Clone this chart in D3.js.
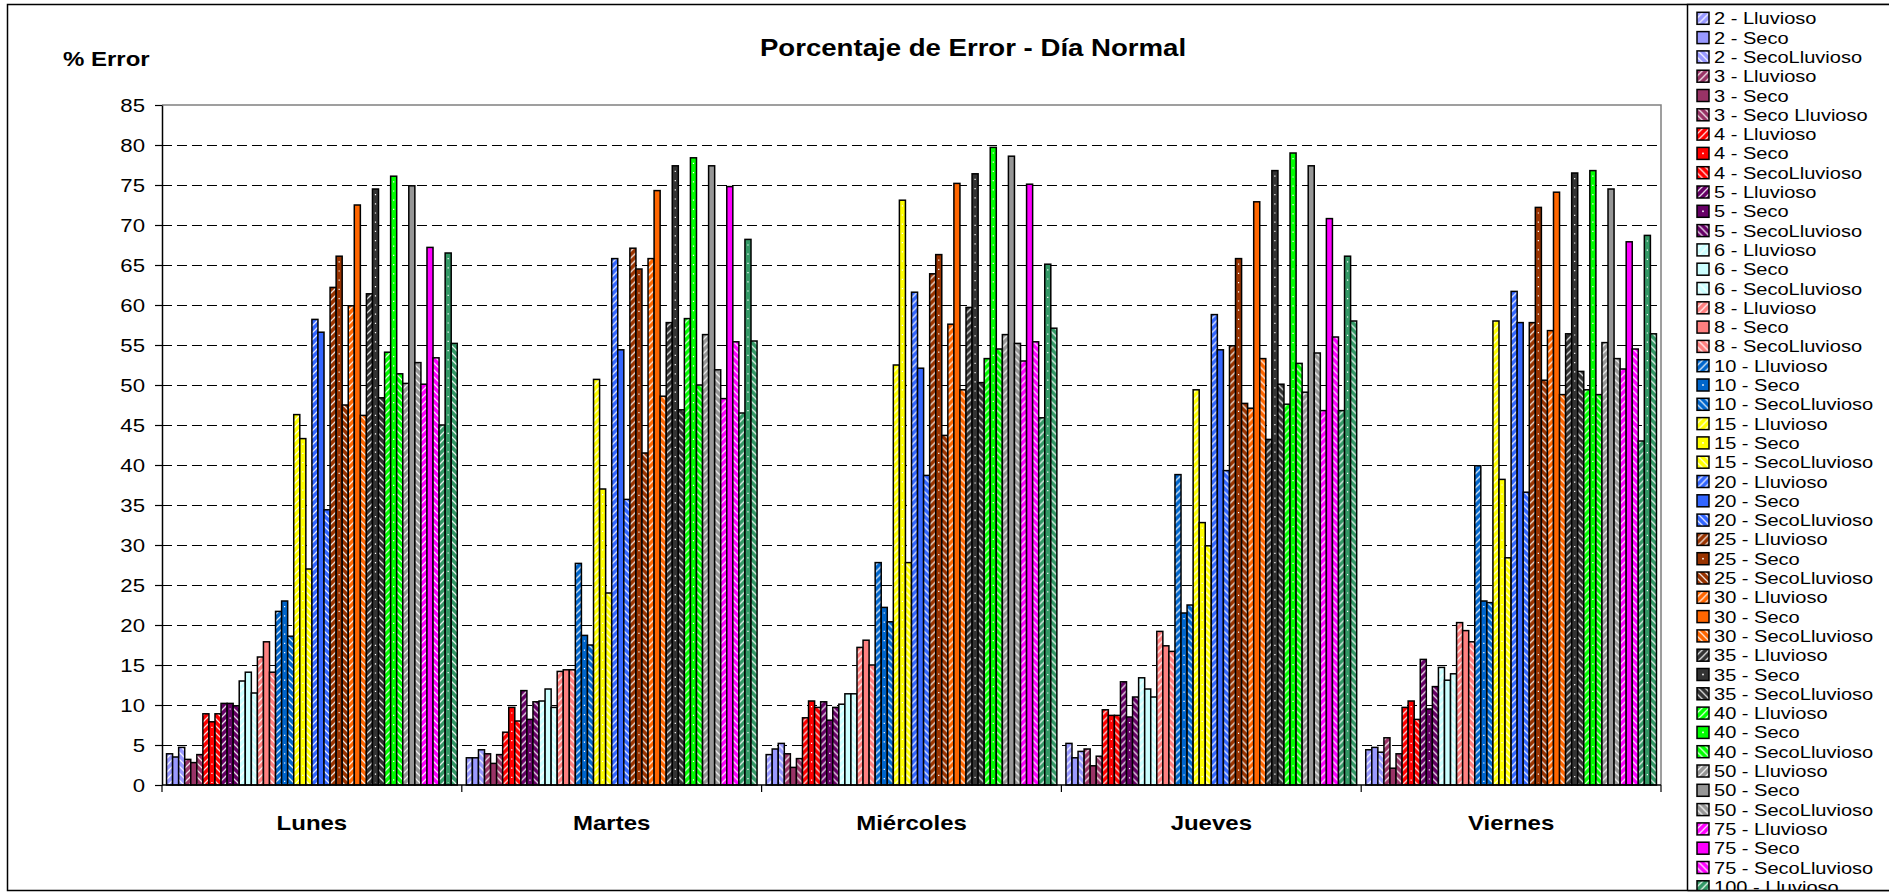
<!DOCTYPE html>
<html>
<head>
<meta charset="utf-8">
<script src="https://cdn.jsdelivr.net/npm/d3@7"></script>
<style>
  html, body { margin: 0; padding: 0; background: #fff; }
  svg { display: block; }
  text { font-family: "Liberation Sans", Arial, Helvetica, sans-serif; fill: #000; }
</style>
</head>
<body>
<svg id="chart" width="1889" height="895"></svg>
<script>
// ---- data ---------------------------------------------------------------
const categories = ["Lunes", "Martes", "Miércoles", "Jueves", "Viernes"];

const seriesNames = [
  "2 - Lluvioso", "2 - Seco", "2 - SecoLluvioso",
  "3 - Lluvioso", "3 - Seco", "3 - Seco Lluvioso",
  "4 - Lluvioso", "4 - Seco", "4 - SecoLluvioso",
  "5 - Lluvioso", "5 - Seco", "5 - SecoLluvioso",
  "6 - Lluvioso", "6 - Seco", "6 - SecoLluvioso",
  "8 - Lluvioso", "8 - Seco", "8 - SecoLluvioso",
  "10 - Lluvioso", "10 - Seco", "10 - SecoLluvioso",
  "15 - Lluvioso", "15 - Seco", "15 - SecoLluvioso",
  "20 - Lluvioso", "20 - Seco", "20 - SecoLluvioso",
  "25 - Lluvioso", "25 - Seco", "25 - SecoLluvioso",
  "30 - Lluvioso", "30 - Seco", "30 - SecoLluvioso",
  "35 - Lluvioso", "35 - Seco", "35 - SecoLluvioso",
  "40 - Lluvioso", "40 - Seco", "40 - SecoLluvioso",
  "50 - Lluvioso", "50 - Seco", "50 - SecoLluvioso",
  "75 - Lluvioso", "75 - Seco", "75 - SecoLluvioso",
  "100 - Lluvioso", "100 - Seco", "100 - SecoLluvioso"
];

// one value per series, same order as seriesNames
const lunes = [3.9, 3.5, 4.7, 3.2, 2.8, 3.8, 8.9, 7.9, 8.9, 10.2, 10.2, 9.9,
  13.0, 14.1, 11.5, 16.0, 17.9, 14.1, 21.7, 23.0, 18.6, 46.3, 43.3, 27.0,
  58.2, 56.6, 34.4, 62.2, 66.1, 47.5, 59.9, 72.5, 46.2, 61.4, 74.5, 48.4,
  54.1, 76.1, 51.4, 50.2, 74.9, 52.8, 50.1, 67.2, 53.4, 45.0, 66.5, 55.2];
const martes = [3.4, 3.4, 4.4, 3.9, 2.7, 3.8, 6.6, 9.7, 8.0, 11.8, 8.2, 10.4,
  10.5, 12.0, 9.7, 14.2, 14.4, 14.4, 27.7, 18.7, 17.5, 50.7, 37.0, 24.0,
  65.8, 54.4, 35.7, 67.1, 64.5, 41.5, 65.8, 74.3, 48.6, 57.8, 77.4, 46.9,
  58.3, 78.4, 50.0, 56.3, 77.4, 51.9, 48.3, 74.8, 55.4, 46.5, 68.2, 55.5];
const miercoles = [3.8, 4.5, 5.2, 3.9, 2.2, 3.3, 8.4, 10.5, 9.7, 10.4, 8.1, 9.7,
  10.1, 11.4, 11.4, 17.2, 18.1, 15.0, 27.8, 22.2, 20.4, 52.5, 73.1, 27.8,
  61.6, 52.1, 38.7, 63.9, 66.3, 43.7, 57.6, 75.2, 49.4, 59.7, 76.4, 50.3,
  53.3, 79.7, 54.5, 56.3, 78.6, 55.2, 53.0, 75.1, 55.4, 45.9, 65.1, 57.1];
const jueves = [5.2, 3.4, 4.2, 4.5, 2.4, 3.6, 9.4, 8.7, 8.7, 12.9, 8.5, 11.0,
  13.4, 12.0, 11.0, 19.2, 17.4, 16.7, 38.8, 21.5, 22.5, 49.4, 32.8, 29.9,
  58.8, 54.4, 39.3, 54.9, 65.8, 47.7, 47.1, 72.9, 53.3, 43.2, 76.8, 50.1,
  47.6, 79.0, 52.7, 49.1, 77.4, 54.0, 46.8, 70.8, 56.0, 46.8, 66.1, 58.0];
const viernes = [4.4, 4.7, 4.1, 5.9, 2.1, 3.9, 9.7, 10.5, 8.2, 15.7, 9.5, 12.3,
  14.7, 13.1, 13.9, 20.3, 19.3, 17.9, 39.9, 23.0, 22.8, 58.0, 38.2, 28.4,
  61.7, 57.8, 36.6, 57.8, 72.2, 50.6, 56.8, 74.1, 48.8, 56.4, 76.5, 51.7,
  49.4, 76.8, 48.8, 55.3, 74.5, 53.3, 52.0, 67.9, 54.5, 43.0, 68.7, 56.4];

const dayValues = [lunes, martes, miercoles, jueves, viernes];
const yTicks = [0, 5, 10, 15, 20, 25, 30, 35, 40, 45, 50, 55, 60, 65, 70, 75, 80, 85];

// ---- styling ------------------------------------------------------------
// colour per distance group (three series each)
const groupColors = ["#9999FF", "#993366", "#FF0000", "#660066", "#CCFFFF", "#FF8080",
  "#0066CC", "#FFFF00", "#3366FF", "#993300", "#FF6600", "#333333",
  "#00FF00", "#969696", "#FF00FF", "#339966"];
// Seco series drawn with a sparse white dot column
const dottedGroups = ["4", "5", "10", "15", "25", "35", "40", "100"];

const seriesColor = i => groupColors[Math.floor(i / 3)];
const seriesKind = i => ["up", "solid", "down"][i % 3];
const seriesDotted = i => i % 3 === 1 && dottedGroups.includes(seriesNames[i].split(" ")[0]);

const W = 1889, H = 895;
const plot = { left: 162, right: 1661, top: 105, bottom: 785 };
const legendLeft = 1687.5;
const SX = 1.2; // horizontal text stretch

const svg = d3.select("#chart");

// ---- patterns -----------------------------------------------------------
const defs = svg.append("defs");
seriesNames.forEach((name, i) => {
  const kind = seriesKind(i);
  if (kind === "solid") return;
  const p = defs.append("pattern")
    .attr("id", "fill-" + i)
    .attr("patternUnits", "userSpaceOnUse")
    .attr("width", 7).attr("height", 7);
  p.append("rect").attr("width", 7).attr("height", 7).attr("fill", seriesColor(i));
  const d = kind === "up" ? "M-1,8 L8,-1 M-4,4 L4,-4 M3,11 L11,3" : "M-1,-1 L8,8 M-4,3 L4,11 M3,-4 L11,4";
  p.append("path").attr("d", d)
    .attr("stroke", "#fff").attr("stroke-width", 1.3).attr("stroke-opacity", 0.85);
});
const fillFor = i => seriesKind(i) === "solid" ? seriesColor(i) : `url(#fill-${i})`;

const clip = defs.append("clipPath").attr("id", "chartClip");
clip.append("rect").attr("x", 0).attr("y", 0).attr("width", W).attr("height", 890);

// ---- outer frame --------------------------------------------------------
svg.append("rect").attr("x", 0).attr("y", 0).attr("width", W).attr("height", H).attr("fill", "#fff");
svg.append("rect")
  .attr("x", 7.5).attr("y", 4.5).attr("width", W + 20).attr("height", 886)
  .attr("fill", "none").attr("stroke", "#000").attr("stroke-width", 1.5);

// ---- scales -------------------------------------------------------------
const x0 = d3.scaleBand().domain(categories).range([plot.left, plot.right]).padding(0);
const x1 = d3.scaleBand().domain(seriesNames).range([0, x0.bandwidth()])
  .paddingInner(0).paddingOuter(0.75);
const y = d3.scaleLinear().domain([0, 85]).range([plot.bottom, plot.top]);

// ---- grid ---------------------------------------------------------------
svg.append("g").selectAll("line")
  .data(yTicks.filter(t => t > 0 && t < 85))
  .join("line")
  .attr("x1", plot.left).attr("x2", plot.right)
  .attr("y1", d => y(d) + 0.5).attr("y2", d => y(d) + 0.5)
  .attr("stroke", "#000").attr("stroke-width", 1)
  .attr("shape-rendering", "crispEdges")
  .attr("stroke-dasharray", "10,5");

// plot-area border (top and right)
svg.append("path")
  .attr("d", `M${plot.left},${y(85)}H${plot.right}V${plot.bottom}`)
  .attr("fill", "none").attr("stroke", "#808080").attr("stroke-width", 1.5);

// ---- bars ---------------------------------------------------------------
const table = categories.map((c, ci) => ({
  category: c,
  values: seriesNames.map((s, si) => ({ series: s, index: si, value: dayValues[ci][si] }))
}));

const groups = svg.append("g").selectAll("g")
  .data(table).join("g")
  .attr("transform", d => `translate(${x0(d.category)},0)`);

groups.selectAll("rect")
  .data(d => d.values).join("rect")
  .attr("x", d => x1(d.series))
  .attr("y", d => y(d.value))
  .attr("width", x1.bandwidth())
  .attr("height", d => y(0) - y(d.value))
  .attr("fill", d => fillFor(d.index))
  .attr("stroke", "#000").attr("stroke-width", 1.5);

groups.selectAll("line.dots")
  .data(d => d.values.filter(v => seriesDotted(v.index))).join("line")
  .attr("class", "dots")
  .attr("x1", d => x1(d.series) + x1.bandwidth() / 2)
  .attr("x2", d => x1(d.series) + x1.bandwidth() / 2)
  .attr("y1", d => y(d.value) + 5)
  .attr("y2", d => y(0) - 2)
  .attr("stroke", "#fff").attr("stroke-width", 1.2)
  .attr("stroke-dasharray", "1.2,8");

// ---- axes ---------------------------------------------------------------
const yAxis = svg.append("g")
  .attr("transform", `translate(${plot.left},0)`)
  .call(d3.axisLeft(y).tickValues(yTicks).tickSize(7).tickSizeOuter(0));
yAxis.select(".domain").attr("stroke", "#000").attr("stroke-width", 1.5);
yAxis.selectAll(".tick line").attr("stroke", "#000").attr("stroke-width", 1.2);
yAxis.selectAll(".tick text")
  .attr("x", null).attr("dy", "0.35em")
  .attr("transform", `translate(-17,0) scale(${SX},1)`)
  .attr("font-size", 18.5).attr("font-family", null);

const xAxis = svg.append("g")
  .attr("transform", `translate(0,${plot.bottom})`);
xAxis.append("line")
  .attr("x1", plot.left).attr("x2", plot.right)
  .attr("stroke", "#000").attr("stroke-width", 1.5);
xAxis.selectAll("line.sep")
  .data(categories.map(c => x0(c)).concat([x0.range()[1]]))
  .join("line").attr("class", "sep")
  .attr("x1", d => d).attr("x2", d => d)
  .attr("y1", 0).attr("y2", 7)
  .attr("stroke", "#000").attr("stroke-width", 1.2);
xAxis.selectAll("text")
  .data(categories).join("text")
  .attr("transform", d => `translate(${x0(d) + x0.bandwidth() / 2},45) scale(${SX},1)`)
  .attr("text-anchor", "middle")
  .attr("font-size", 20).attr("font-weight", "bold")
  .text(d => d);

// ---- titles -------------------------------------------------------------
svg.append("text")
  .attr("transform", `translate(973,56) scale(${SX},1)`)
  .attr("text-anchor", "middle")
  .attr("font-size", 23).attr("font-weight", "bold")
  .text("Porcentaje de Error - Día Normal");

svg.append("text")
  .attr("transform", `translate(63,66) scale(${SX},1)`)
  .attr("font-size", 20).attr("font-weight", "bold")
  .text("% Error");

// ---- legend -------------------------------------------------------------
const legend = svg.append("g").attr("clip-path", "url(#chartClip)");
legend.append("rect")
  .attr("x", legendLeft).attr("y", 4.5).attr("width", 260).attr("height", 1000)
  .attr("fill", "#fff").attr("stroke", "#000").attr("stroke-width", 1.5);

const items = legend.selectAll("g.item")
  .data(seriesNames).join("g").attr("class", "item")
  .attr("transform", (d, i) => `translate(1697,${18.3 + 19.3 * i})`);
items.append("rect")
  .attr("x", 0).attr("y", -6).attr("width", 12).attr("height", 12)
  .attr("fill", (d, i) => fillFor(i))
  .attr("stroke", "#000").attr("stroke-width", 1.5);
items.filter((d, i) => seriesDotted(i)).append("rect")
  .attr("x", 5.2).attr("y", -0.8).attr("width", 1.6).attr("height", 1.6).attr("fill", "#fff");
items.append("text")
  .attr("transform", `translate(17,6) scale(${SX},1)`)
  .attr("font-size", 16.7)
  .text(d => d);

svg.append("line")
  .attr("x1", legendLeft).attr("x2", W).attr("y1", 890.5).attr("y2", 890.5)
  .attr("stroke", "#000").attr("stroke-width", 1.5);
</script>
</body>
</html>
